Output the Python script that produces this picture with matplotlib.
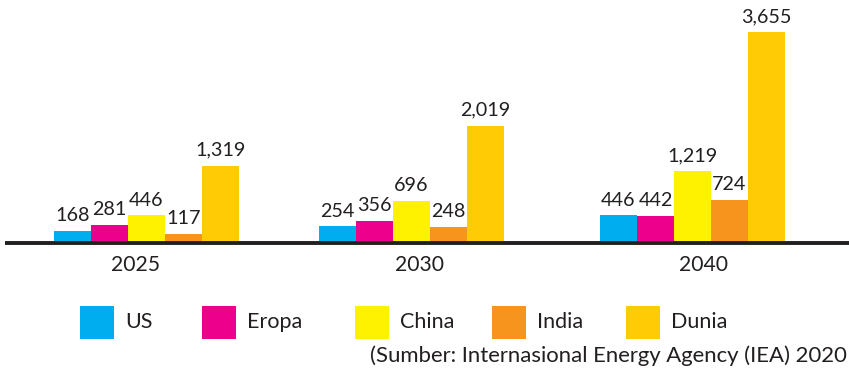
import matplotlib
matplotlib.use("Agg")
import matplotlib.pyplot as plt
from matplotlib.patches import Rectangle

# Data
years = ["2025", "2030", "2040"]
series = ["US", "Eropa", "China", "India", "Dunia"]
us = [168, 254, 446]
eropa = [281, 356, 442]
china = [446, 696, 1219]
india = [117, 248, 724]
dunia = [1319, 2019, 3655]

colors = ["#00AEEF", "#EC008C", "#FFF200", "#F7941D", "#FFCB05"]
text_color = "#231F20"
font = ["Lato", "DejaVu Sans"]
plt.rcParams["font.family"] = font

W, H = 849, 369
fig = plt.figure(figsize=(W / 100, H / 100), dpi=100)

# Plot area: horizontal axis in pixel units, vertical axis in values
base_px, top_px = 241, 32
ax = fig.add_axes([0, (H - base_px) / H, 1, (base_px - top_px) / H])
ax.set_xlim(0, W)
ax.set_ylim(0, max(dunia))
ax.axis("off")

group_left = [54, 319, 600]
label_x = [136, 420, 704]
bar_w = 37

values = [us, eropa, china, india, dunia]
for s, (vals, col) in enumerate(zip(values, colors)):
    xs = [g + bar_w * s + bar_w / 2 for g in group_left]
    bars = ax.bar(xs, vals, width=bar_w, color=col, linewidth=0, zorder=2)
    for rect, v in zip(bars, vals):
        ax.annotate(f"{v:,}", (rect.get_x() + rect.get_width() / 2, v),
                    xytext=(0, 5), textcoords="offset points",
                    ha="center", va="bottom", fontsize=14.2, color=text_color)

# Overlay in figure pixel coordinates for the baseline, year labels and legend
ov = fig.add_axes([0, 0, 1, 1], zorder=3)
ov.set_xlim(0, W)
ov.set_ylim(H, 0)
ov.axis("off")
ov.patch.set_alpha(0)

ov.plot([5, W], [242.5, 242.5], color=text_color, lw=2.8, solid_capstyle="butt")

for x, y in zip(label_x, years):
    ov.text(x, 265, y, ha="center", va="center", fontsize=15.2, color=text_color)

sq_x = [80, 202, 355, 492, 626]
for x, name, col in zip(sq_x, series, colors):
    ov.add_patch(Rectangle((x, 306), 34, 33, color=col, linewidth=0))
    ov.text(x + 45, 322.5, name, ha="left", va="center", fontsize=15.5, color=text_color)

ov.text(847, 356, "(Sumber: Internasional Energy Agency (IEA) 2020",
        ha="right", va="center", fontsize=15.9, color=text_color)

fig.savefig("out.png", dpi=100)
